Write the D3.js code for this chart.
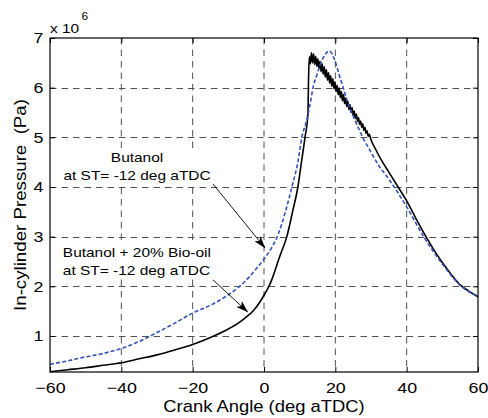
<!DOCTYPE html>
<html>
<head>
<meta charset="utf-8">
<style>
    body { margin: 0; background: #fff; }
    svg { display: block; font-family: 'Liberation Sans', Arial, sans-serif; }
    .tick line { stroke: #000; }
</style>
</head>
<body>
<svg width="488" height="418"></svg>

<script src="https://d3js.org/d3.v7.min.js"></script>
<script>
    // crank angle (deg aTDC) vs in-cylinder pressure (x 10^6 Pa)
    let butanolAngle = [-60, -55, -50, -45, -40, -35, -30, -25, -20, -15,
        -10, -7, -4, -2, 0, 2, 4, 6, 8, 9.5,
        10.6, 12, 13, 13.8, 14.8, 15.7, 16.6, 17.5, 18.3, 19.1,
        20, 21, 22.2, 23.5, 25, 26.4, 27.7, 30, 32, 34.8,
        36.5, 40, 44.6, 50, 55, 60]
    let butanolPressure = [0.43, 0.5, 0.58, 0.65, 0.75, 0.89, 1.07, 1.26, 1.46, 1.62,
        1.83, 1.99, 2.2, 2.37, 2.55, 2.76, 3.05, 3.5, 4.05, 4.5,
        5.0, 5.35, 5.7, 6.02, 6.25, 6.45, 6.6, 6.7, 6.74, 6.68,
        6.52, 6.28, 6.0, 5.7, 5.43, 5.2, 5.0, 4.7, 4.45, 4.18,
        4.0, 3.6, 3.02, 2.45, 2.02, 1.8]

    let bioAngle = [-60, -55, -50, -45, -40, -35, -30, -25, -20, -15,
        -10, -7, -5, -3, -1, 0, 1, 2, 3, 4.5,
        6.4, 8, 9.5, 10.5, 11.5, 12.3, 12.5, 12.7,
        13.0, 13.3, 13.6, 13.9, 14.2, 14.5, 14.8, 15.1, 15.4, 15.7,
        16.0, 16.3, 16.6, 16.9, 17.2, 17.5, 17.8, 18.1, 18.4, 18.7,
        19.0, 19.3, 19.6, 19.9, 20.2, 20.5, 20.8, 21.1, 21.4, 21.7,
        22.0, 22.3, 22.6, 22.9, 23.2, 23.5, 23.8, 24.1, 24.4, 24.7,
        25.0, 25.3, 25.6, 25.9, 26.2, 26.5, 26.8, 27.1, 27.4, 27.7,
        28.0, 28.3, 28.6, 28.9, 29.2, 29.5,
        30, 31, 33, 35, 37.6, 40, 42.5, 45, 47.5, 50,
        52.5, 55, 57.5, 60]
    let bioPressure = [0.28, 0.32, 0.36, 0.41, 0.46, 0.54, 0.62, 0.72, 0.83, 0.97,
        1.14, 1.27, 1.38, 1.51, 1.7, 1.82, 1.95, 2.1, 2.3, 2.62,
        3.0, 3.5, 4.0, 4.5, 5.0, 5.45, 6.2, 6.62,
        6.48, 6.7, 6.5, 6.68, 6.47, 6.63, 6.43, 6.58, 6.38, 6.53,
        6.32, 6.48, 6.27, 6.42, 6.21, 6.36, 6.15, 6.3, 6.09, 6.24,
        6.03, 6.18, 5.98, 6.12, 5.92, 6.05, 5.86, 5.99, 5.8, 5.92,
        5.74, 5.86, 5.68, 5.79, 5.62, 5.73, 5.56, 5.66, 5.5, 5.6,
        5.44, 5.53, 5.38, 5.47, 5.32, 5.4, 5.26, 5.33, 5.2, 5.27,
        5.14, 5.2, 5.08, 5.13, 5.02, 5.06,
        4.95, 4.8, 4.53, 4.3, 4.0, 3.72, 3.38, 3.05, 2.75, 2.48,
        2.24, 2.03, 1.9, 1.79]

    let xTicks = [-60, -40, -20, 0, 20, 40, 60]
    let yTicks = [1, 2, 3, 4, 5, 6, 7]

    let width = 488
    let height = 418
    let margin = { top: 38, right: 10, bottom: 46, left: 50 }
    let stretch = 1.19 // text in the picture is a bit wide

    let svg = d3.select("svg")

    let x = d3.scaleLinear()
        .domain([-60, 60])
        .range([margin.left, width - margin.right])

    let y = d3.scaleLinear()
        .domain([0.275, 7])
        .range([height - margin.bottom, margin.top])

    let plotTop = y.range()[1], plotBottom = y.range()[0]
    let plotLeft = x.range()[0], plotRight = x.range()[1]

    // grid
    let grid = svg.append("g")
        .attr("stroke", "#505050")
        .attr("stroke-width", 1)
        .attr("stroke-dasharray", "6.5,5")

    grid.selectAll(".vgrid")
        .data(xTicks.slice(1, -1))
        .join("line")
        .attr("x1", d => x(d))
        .attr("x2", d => x(d))
        .attr("y1", plotTop)
        .attr("y2", plotBottom)

    grid.selectAll(".hgrid")
        .data(yTicks.slice(0, -1))
        .join("line")
        .attr("x1", plotLeft)
        .attr("x2", plotRight)
        .attr("y1", d => Math.round(y(d)) + 0.5)
        .attr("y2", d => Math.round(y(d)) + 0.5)

    // axes, ticks pointing inside
    let xAxis = svg.append("g")
        .attr("transform", `translate(0,${plotBottom})`)
        .call(d3.axisBottom(x).tickValues(xTicks).tickSizeInner(-5).tickSizeOuter(0).tickPadding(10))
    let yAxis = svg.append("g")
        .attr("transform", `translate(${plotLeft},0)`)
        .call(d3.axisLeft(y).tickValues(yTicks).tickFormat(d3.format("d"))
            .tickSizeInner(-5).tickSizeOuter(0).tickPadding(5.5))
    svg.append("g")
        .attr("transform", `translate(0,${plotTop})`)
        .call(d3.axisTop(x).tickValues(xTicks).tickSizeInner(-5).tickSizeOuter(0).tickFormat(""))
    svg.append("g")
        .attr("transform", `translate(${plotRight},0)`)
        .call(d3.axisRight(y).tickValues(yTicks).tickSizeInner(-5).tickSizeOuter(0).tickFormat(""))

    svg.selectAll(".domain").remove()

    xAxis.selectAll("text")
        .style("font-size", "15px")
        .attr("fill", "#000")
        .attr("transform", `scale(${stretch},1)`)
    yAxis.selectAll("text")
        .style("font-size", "15px")
        .attr("fill", "#000")
        .attr("transform", `scale(${stretch},1)`)

    // curves
    let line = d3.line()
        .x(d => x(d[0]))
        .y(d => y(d[1]))
        .curve(d3.curveMonotoneX)

    svg.append("path")
        .datum(d3.zip(bioAngle, bioPressure))
        .attr("d", line)
        .attr("fill", "none")
        .attr("stroke", "#000")
        .attr("stroke-width", 1.6)
        .attr("stroke-linejoin", "round")

    svg.append("path")
        .datum(d3.zip(butanolAngle, butanolPressure))
        .attr("d", line)
        .attr("fill", "none")
        .attr("stroke", "#3453b8")
        .attr("stroke-width", 1.6)
        .attr("stroke-dasharray", "4,2.2")

    // frame
    svg.append("rect")
        .attr("x", plotLeft)
        .attr("y", plotTop)
        .attr("width", plotRight - plotLeft)
        .attr("height", plotBottom - plotTop)
        .attr("fill", "none")
        .attr("stroke", "#000")
        .attr("stroke-width", 1.2)

    // exponent
    let expo = svg.append("text")
        .attr("transform", `translate(${plotLeft},33) scale(${stretch},1)`)
        .style("font-size", "13px")
    expo.append("tspan").text("x 10")
    expo.append("tspan")
        .attr("dx", 2)
        .attr("dy", -13)
        .style("font-size", "10px")
        .text("6")

    // axis titles
    svg.append("text")
        .attr("transform", `translate(${(plotLeft + plotRight) / 2},412) scale(1.15,1)`)
        .attr("text-anchor", "middle")
        .style("font-size", "16px")
        .text("Crank Angle (deg aTDC)")

    svg.append("text")
        .attr("transform", `translate(26,${(plotTop + plotBottom) / 2}) rotate(-90) scale(1.1,1)`)
        .attr("text-anchor", "middle")
        .style("font-size", "17px")
        .style("white-space", "pre")
        .text("In-cylinder Pressure  (Pa)")

    // annotations with arrows
    svg.append("defs").append("marker")
        .attr("id", "head")
        .attr("markerUnits", "userSpaceOnUse")
        .attr("markerWidth", 12)
        .attr("markerHeight", 8)
        .attr("refX", 12)
        .attr("refY", 4)
        .attr("orient", "auto")
        .append("path")
        .attr("d", "M0,0 L12,4 L0,8 L3,4 Z")
        .attr("fill", "#000")

    let notes = [
        { lines: ["Butanol", "at ST= -12 deg aTDC"], anchor: "middle", at: [-35.6, 4.5], from: [-14.3, 4.06], to: [0.3, 2.77] },
        { lines: ["Butanol + 20% Bio-oil", "at ST= -12 deg aTDC"], anchor: "start", at: [-56.4, 2.59], from: [-14.3, 2.13], to: [-4.5, 1.48] }
    ]

    notes.forEach(n => {
        svg.append("line")
            .attr("x1", x(n.from[0]))
            .attr("y1", y(n.from[1]))
            .attr("x2", x(n.to[0]))
            .attr("y2", y(n.to[1]))
            .attr("stroke", "#000")
            .attr("stroke-width", 0.9)
            .attr("marker-end", "url(#head)")

        let g = svg.append("g")
            .attr("transform", `translate(${x(n.at[0])},${y(n.at[1])}) scale(${stretch},1)`)
        let box = g.append("rect").attr("fill", "#fff")
        let t = g.append("text")
            .attr("text-anchor", n.anchor)
            .style("font-size", "13px")
        n.lines.forEach((s, i) => {
            t.append("tspan").attr("x", 0).attr("y", i * 17.5).text(s)
        })
        let bb = t.node().getBBox()
        box.attr("x", bb.x - 2)
            .attr("y", bb.y - 1)
            .attr("width", bb.width + 4)
            .attr("height", bb.height + 2)
    })
</script>
</body>
</html>
